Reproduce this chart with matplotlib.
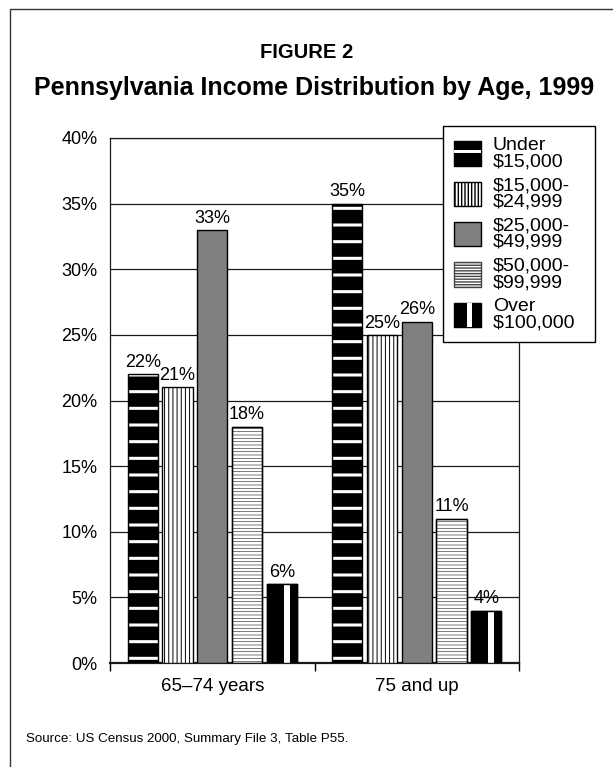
import numpy as np
import matplotlib
matplotlib.use('Agg')
import matplotlib.pyplot as plt
from matplotlib.patches import Patch, Rectangle
from matplotlib.legend_handler import HandlerBase

age_groups = ["65–74 years", "75 and up"]
income_labels = ["Under\n\\$15,000", "\\$15,000-\n\\$24,999", "\\$25,000-\n\\$49,999",
                 "\\$50,000-\n\\$99,999", "Over\n\\$100,000\u2002"]
under_15k = [22, 35]
k15_to_25k = [21, 25]
k25_to_50k = [33, 26]
k50_to_100k = [18, 11]
over_100k = [6, 4]
y_ticks = [0, 5, 10, 15, 20, 25, 30, 35, 40]

plt.rcParams['font.family'] = ['Liberation Sans', 'DejaVu Sans']

fig = plt.figure(figsize=(6.13, 7.67), dpi=100)
ax = fig.add_axes([110 / 613, 1 - 663 / 767, 409 / 613, 525 / 767])

x = np.arange(len(age_groups))
step, width = 0.17, 0.148
off = (np.arange(5) - 2) * step


def hatch_bars(bars, lw):
    for b in bars:
        if hasattr(b, 'set_hatch_linewidth'):
            b.set_hatch_linewidth(lw)


# under 15k: black with white horizontal stripes
with plt.rc_context({'hatch.linewidth': 2.2}):
    b1 = ax.bar(x + off[0], under_15k, width, color='black', edgecolor='white',
                linewidth=0, hatch='-', zorder=3)
hatch_bars(b1, 2.2)
ax.bar(x + off[0], under_15k, width, fill=False, edgecolor='black', linewidth=1, zorder=4)

# 15k-25k: white with vertical lines
with plt.rc_context({'hatch.linewidth': 0.7}):
    b2 = ax.bar(x + off[1], k15_to_25k, width, color='white', edgecolor='black',
                linewidth=1, hatch='||||', zorder=3)
hatch_bars(b2, 0.7)

# 25k-50k: gray
ax.bar(x + off[2], k25_to_50k, width, color='#808080', edgecolor='black', linewidth=1, zorder=3)

# 50k-100k: fine horizontal lines
with plt.rc_context({'hatch.linewidth': 0.5}):
    b4 = ax.bar(x + off[3], k50_to_100k, width, color='white', edgecolor='#444444',
                linewidth=1, hatch='-----', zorder=3)
hatch_bars(b4, 0.5)
ax.bar(x + off[3], k50_to_100k, width, fill=False, edgecolor='black', linewidth=1, zorder=4)

# over 100k: black with one white vertical stripe
ax.bar(x + off[4], over_100k, width, color='black', edgecolor='black', linewidth=1, zorder=3)
ax.bar(x + off[4] + 0.025, over_100k, 0.03, color='white', linewidth=0, zorder=4)
ax.bar(x + off[4], over_100k, width, fill=False, edgecolor='black', linewidth=1, zorder=5)

series = [under_15k, k15_to_25k, k25_to_50k, k50_to_100k, over_100k]
for i, vals in enumerate(series):
    for xi, v in zip(x + off[i], vals):
        ax.text(xi, v + 0.25, f"{v}%", ha='center', va='bottom', fontsize=13)

ax.set_xlim(-0.5, 1.5)
ax.set_ylim(0, 40)
ax.set_yticks(y_ticks)
ax.set_yticklabels([f"{t}%" for t in y_ticks])
ax.tick_params(axis='y', length=0, pad=9, labelsize=13)
ax.set_xticks(x)
ax.set_xticklabels(age_groups)
ax.set_xticks([-0.5, 0.5, 1.5], minor=True)
ax.tick_params(axis='x', which='major', length=0, pad=11, labelsize=13.5)
ax.tick_params(axis='x', which='minor', length=6, width=1, direction='out')
ax.grid(axis='y', color='#1a1a1a', linewidth=0.9, zorder=0)
ax.set_axisbelow(True)
for s in ax.spines.values():
    s.set_linewidth(0.9)
    s.set_color('#1a1a1a')
ax.spines['bottom'].set_linewidth(1.6)


class StripeHandler(HandlerBase):
    """black legend box with one white stripe"""
    def __init__(self, vertical):
        super().__init__()
        self.vertical = vertical

    def create_artists(self, legend, orig_handle, xdescent, ydescent, width, height,
                       fontsize, trans):
        x0, y0 = -xdescent, -ydescent
        bg = Rectangle((x0, y0), width, height, facecolor='black', edgecolor='black',
                       linewidth=1, transform=trans)
        if self.vertical:
            stripe = Rectangle((x0 + width * 0.48, y0), width * 0.18, height,
                               facecolor='white', linewidth=0, transform=trans)
        else:
            stripe = Rectangle((x0, y0 + height * 0.52), width, height * 0.13,
                               facecolor='white', linewidth=0, transform=trans)
        return [bg, stripe]


h_under = Patch(facecolor='black')
h_over = Patch(facecolor='black')
handles = [
    h_under,
    Patch(facecolor='white', edgecolor='black', hatch='|||||'),
    Patch(facecolor='#808080', edgecolor='black'),
    Patch(facecolor='white', edgecolor='#444444', hatch='------'),
    h_over,
]
leg = fig.legend(handles, income_labels, loc='upper left',
                 bbox_to_anchor=(443 / 613, 1 - 126 / 767), bbox_transform=fig.transFigure,
                 fancybox=False, edgecolor='black', framealpha=1, fontsize=14,
                 handlelength=1.4, handleheight=1.55, handletextpad=0.62,
                 labelspacing=0.36, borderpad=0.55, borderaxespad=0,
                 handler_map={h_under: StripeHandler(False), h_over: StripeHandler(True)})
leg.get_frame().set_linewidth(1.0)
for t in leg.get_texts():
    t.set_linespacing(0.95)

# titles and source
fig.text(0.501, 1 - 52 / 767, "FIGURE 2", ha='center', va='center',
         fontsize=14.5, fontweight='bold')
fig.text(0.512, 1 - 88 / 767, "Pennsylvania Income Distribution by Age, 1999",
         ha='center', va='center', fontsize=18, fontweight='bold')
fig.text(26 / 613, 1 - 739 / 767, "Source: US Census 2000, Summary File 3, Table P55.",
         ha='left', va='center', fontsize=9.6)

# outer frame (only left and top edges visible)
fig.add_artist(Rectangle((10 / 613, -0.1), 1.2, 1.1 - 9 / 767, fill=False,
                         edgecolor='#333333', linewidth=1, transform=fig.transFigure))

fig.savefig("out.png", dpi=100)
